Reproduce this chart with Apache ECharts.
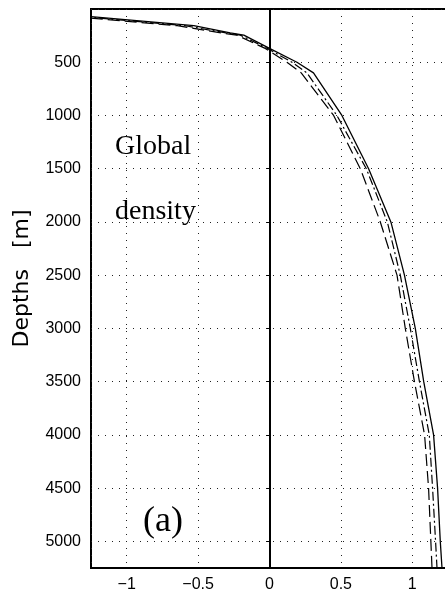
<!DOCTYPE html>
<html>
<head>
<meta charset="utf-8">
<script src="https://cdn.jsdelivr.net/npm/echarts@6/dist/echarts.min.js"></script>
<style>
html,body{margin:0;padding:0;background:#fff;}
#chart{width:445px;height:594px;}
</style>
</head>
<body>
<div id="chart"></div>
<script>
// Depth levels [m]
const depths = [72, 157, 225, 245, 370, 500, 600, 1000, 1500, 2000, 2500, 3000, 3500, 4000, 4500, 5000, 5250];
// Profiles (solid, dash-dot, dashed)
const solidVals   = [-1.25, -0.53, -0.275, -0.18, 0.0, 0.192, 0.308, 0.507, 0.694, 0.85, 0.945, 1.021, 1.08, 1.149, 1.177, 1.196, 1.208];
const dashDotVals = [-1.31, -0.59, -0.305, -0.205, -0.015, 0.157, 0.262, 0.472, 0.678, 0.825, 0.916, 0.986, 1.05, 1.119, 1.142, 1.163, 1.173];
const dashedVals  = [-1.37, -0.645, -0.335, -0.23, -0.03, 0.122, 0.222, 0.449, 0.636, 0.776, 0.893, 0.951, 1.015, 1.086, 1.114, 1.13, 1.138];
const yTickLabels = [500, 1000, 1500, 2000, 2500, 3000, 3500, 4000, 4500, 5000];
const xTickLabels = [-1, -0.5, 0, 0.5, 1];

function pairs(vals){ return vals.map((v,i)=>[v, depths[i]]); }

const chart = echarts.init(document.getElementById('chart'), null, {renderer:'canvas'});
const dotted = {type:[1,6], color:'#222', width:1};
chart.setOption({
  animation:false,
  grid:{left:91, width:357, top:9, bottom:26, outerBoundsMode:'none', containLabel:false,
        show:true, borderColor:'#000', borderWidth:2, backgroundColor:'transparent'},
  xAxis:{
    type:'value', min:-1.25, max:1.25, splitNumber:5,
    axisLine:{show:true, onZero:false, lineStyle:{color:'#000', width:2}},
    axisTick:{show:false},
    axisLabel:{
      margin:9, color:'#000', fontFamily:'Liberation Sans', fontSize:16,
      formatter:function(v){
        const ok = xTickLabels.some(t=>Math.abs(t-v)<1e-9);
        return ok ? String(v).replace('-', '\u2212') : '';
      }
    },
    splitLine:{show:true, lineStyle:dotted}
  },
  yAxis:{
    type:'value', inverse:true, min:0, max:5250, interval:500,
    name:'Depths   [m]', nameLocation:'middle', nameGap:58, nameRotate:90,
    nameTextStyle:{fontFamily:'DejaVu Sans', fontSize:22, color:'#000', padding:[0,0,0,20]},
    axisLine:{show:true, lineStyle:{color:'#000', width:2}},
    axisTick:{show:true, length:3, lineStyle:{color:'#000'}},
    axisLabel:{
      margin:10, color:'#000', fontFamily:'Liberation Sans', fontSize:16,
      formatter:function(v){ return yTickLabels.indexOf(v) >= 0 ? String(v) : ''; }
    },
    splitLine:{show:true, lineStyle:dotted}
  },
  graphic:[
    {type:'text', left:115, top:133, style:{text:'Global', font:'28px "Liberation Serif"', fill:'#000'}},
    {type:'text', left:115, top:198, style:{text:'density', font:'28px "Liberation Serif"', fill:'#000'}},
    {type:'text', left:143, top:504, style:{text:'(a)', font:'36px "Liberation Serif"', fill:'#000'}}
  ],
  series:[
    {type:'line', name:'solid', data:pairs(solidVals), symbol:'none', clip:true,
     lineStyle:{color:'#000', width:1.3, type:'solid'},
     markLine:{silent:true, symbol:'none', label:{show:false},
       lineStyle:{color:'#000', width:1, type:'solid'}, data:[{xAxis:0}]}},
    {type:'line', name:'dashdot', data:pairs(dashDotVals), symbol:'none', clip:true,
     lineStyle:{color:'#000', width:1.2, type:[9,3,2,3]}},
    {type:'line', name:'dashed', data:pairs(dashedVals), symbol:'none', clip:true,
     lineStyle:{color:'#000', width:1.2, type:[12,5]}}
  ]
});
</script>
</body>
</html>
